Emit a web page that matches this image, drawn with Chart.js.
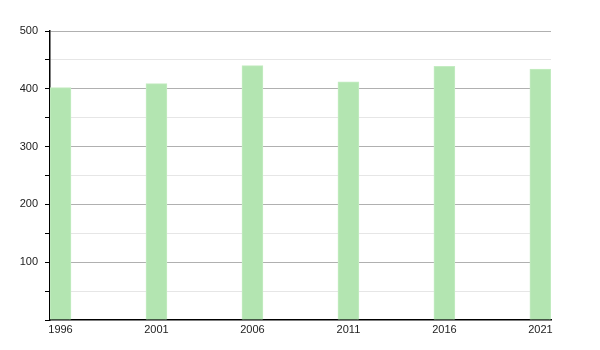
<!DOCTYPE html>
<html>
<head>
<meta charset="utf-8">
<script src="https://cdn.jsdelivr.net/npm/chart.js@4"></script>
<style>
  html, body { margin: 0; padding: 0; background: #fff; }
  #wrap { width: 600px; height: 350px; }
</style>
</head>
<body>
<div id="wrap"><canvas id="popChart"></canvas></div>
<script>
// census years and population values
const years = [1996, 2001, 2006, 2011, 2016, 2021];
const population = [402, 409, 440, 412, 439, 434];
const yTicks = [100, 200, 300, 400, 500];

// bars sit to the right of the year tick, so center them half a bar width over
const barPx = 21;
const pxPerYear = 96 / 5;
const halfBarYears = (barPx / 2) / pxPerYear;

const points = years.map(function(y, i) {
    return { x: y + halfBarYears, y: population[i] };
});

const ctx = document.getElementById('popChart').getContext('2d');
new Chart(ctx, {
    type: 'bar',
    data: {
        datasets: [{
            label: 'Population',
            data: points,
            backgroundColor: '#b3e5b1',
            borderColor: '#c4ecc2',
            borderWidth: 1,
            barThickness: barPx
        }]
    },
    options: {
        responsive: true,
        maintainAspectRatio: false,
        animation: false,
        layout: { padding: { left: 0, top: 31, right: 49, bottom: 0 } },
        plugins: { legend: { display: false }, tooltip: { enabled: false } },
        scales: {
            x: {
                type: 'linear',
                offset: false,
                min: years[0],
                max: years[years.length - 1] + 1.1,
                afterBuildTicks: function(scale) {
                    scale.ticks = years.map(function(y) { return { value: y + halfBarYears }; });
                },
                afterFit: function(scale) { scale.height = 30; },
                grid: { display: false, drawTicks: false, offset: false },
                border: { display: true, color: '#000', width: 1.5 },
                ticks: {
                    padding: 3,
                    color: '#222',
                    font: { family: 'Liberation Sans', size: 11 },
                    maxRotation: 0,
                    callback: function(v) { return String(Math.round(v - halfBarYears)); }
                }
            },
            y: {
                min: 0,
                max: 500,
                afterFit: function(scale) { scale.width = 50; },
                grid: {
                    color: function(c) {
                        if (!c.tick) return '#000';
                        if (c.tick.value === 0) return 'rgba(0,0,0,0)';
                        return c.tick.value % 100 === 0 ? '#b0b0b0' : '#e6e6e6';
                    },
                    tickColor: '#000',
                    tickLength: 5,
                    lineWidth: 1
                },
                border: { display: true, color: '#000', width: 1.5 },
                ticks: {
                    stepSize: 50,
                    padding: 7,
                    color: '#222',
                    font: { family: 'Liberation Sans', size: 11 },
                    callback: function(v) { return yTicks.indexOf(v) >= 0 ? String(v) : ''; }
                }
            }
        }
    }
});
</script>
</body>
</html>
